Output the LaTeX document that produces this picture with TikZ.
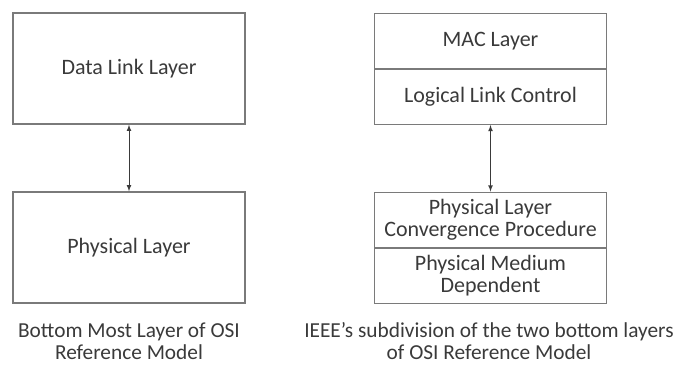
\documentclass[tikz,border=0pt]{standalone}
\usepackage{fontspec}
\setmainfont{Carlito}
\definecolor{boxgray}{HTML}{7A7A7A}
\definecolor{textgray}{HTML}{3A3A3A}
\begin{document}
\begin{tikzpicture}[x=0.75pt, y=-0.75pt,
    layer/.style={rectangle, draw=boxgray, line width=1.1pt, text=textgray, align=center, inner sep=0pt, minimum width=174pt, font=\fontsize{16.5}{16.5}\selectfont},
    caption/.style={align=center, text=textgray, anchor=base, inner sep=0pt, font=\fontsize{16}{16}\selectfont}]
    \useasboundingbox (0,0) rectangle (683,365);

    % OSI model, left
    \begin{scope}[every node/.style={layer, minimum height=83.25pt}]
        \node (dll) at (129,68.5) {Data Link Layer};
        \node (phy) at (129,247.5) {Physical Layer};
    \end{scope}

    % IEEE subdivision, right
    \begin{scope}[every node/.style={layer, minimum height=41.6pt}]
        \node (mac) at (490.5,41) {MAC Layer};
        \node (llc) at (490.5,96.5) {Logical Link Control};
        \node (plcp) at (490.5,220) {Physical Layer\\Convergence Procedure};
        \node (pmd) at (490.5,275.5) {Physical Medium\\Dependent};
    \end{scope}

    \begin{scope}[<->, >=latex, draw=textgray, line width=0.6pt]
        \draw (dll) -- (phy);
        \draw (llc) -- (plcp);
    \end{scope}

    \node [caption] (capl) at (129,359) {Bottom Most Layer of OSI\\Reference Model};
    \node [caption] (capr) at (489,359) {IEEE's subdivision of the two bottom layers\\of OSI Reference Model};
\end{tikzpicture}
\end{document}
